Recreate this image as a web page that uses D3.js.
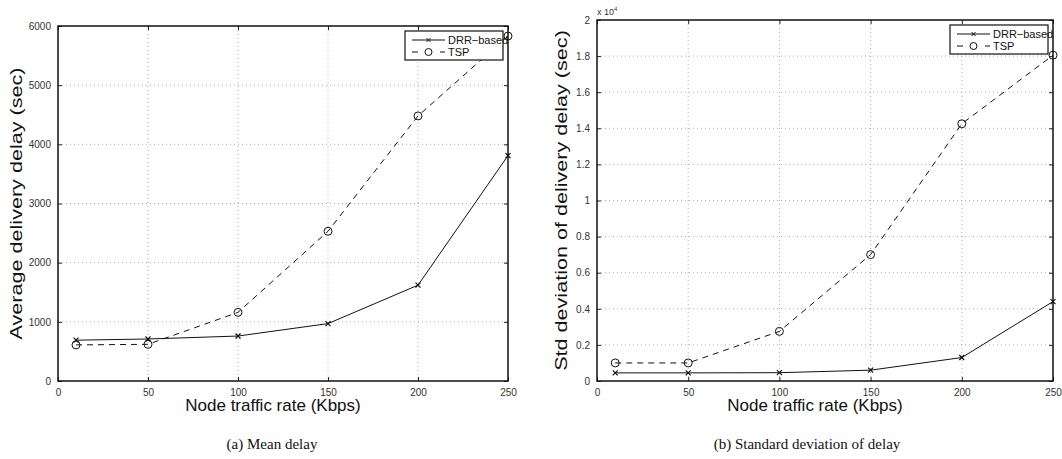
<!DOCTYPE html>
<meta charset="utf-8">
<html>
<head>
<script src="https://d3js.org/d3.v7.min.js"></script>
<style>
  body { margin: 0; background: #fff; }
  svg { display: block; }
</style>
</head>
<body>
<svg id="fig" width="1062" height="459"></svg>
<script>
// traffic rates (Kbps)
var rates = [10, 50, 100, 150, 200, 250];
var xTicks = [0, 50, 100, 150, 200, 250];

// (a) mean delay, sec
var meanDRR = [690, 710, 760, 970, 1620, 3810];
var meanTSP = [610, 620, 1160, 2530, 4480, 5830];
var meanTicks = [0, 1000, 2000, 3000, 4000, 5000, 6000];

// (b) std deviation of delay, x 10^4 sec
var stdDRR = [0.045, 0.045, 0.046, 0.06, 0.13, 0.44];
var stdTSP = [0.10, 0.10, 0.275, 0.70, 1.425, 1.805];
var stdTicks = [0, 0.2, 0.4, 0.6, 0.8, 1, 1.2, 1.4, 1.6, 1.8, 2];

var seriesNames = ["DRR\u2212based", "TSP"];

var svg = d3.select("#fig");

function drawPanel(opt) {
    var x = d3.scaleLinear().domain([0, 250]).range([opt.left, opt.right]);
    var y = d3.scaleLinear().domain(opt.ydom).range([opt.bottom, opt.top]);
    var g = svg.append("g");

    // grid
    g.selectAll(".gx").data(xTicks.slice(1, -1)).enter().append("line")
        .attr("x1", d => x(d)).attr("x2", d => x(d))
        .attr("y1", opt.top).attr("y2", opt.bottom)
        .attr("stroke", "#999").attr("stroke-width", 0.8).attr("stroke-dasharray", "1,3");
    g.selectAll(".gy").data(opt.yticks.slice(1, -1)).enter().append("line")
        .attr("y1", d => y(d)).attr("y2", d => y(d))
        .attr("x1", opt.left).attr("x2", opt.right)
        .attr("stroke", "#999").attr("stroke-width", 0.8).attr("stroke-dasharray", "1,3");

    // axes with inward ticks
    g.append("g").attr("transform", "translate(0," + opt.bottom + ")")
        .call(d3.axisBottom(x).tickValues(xTicks).tickSizeInner(-4).tickSizeOuter(0).tickPadding(8));
    g.append("g").attr("transform", "translate(" + opt.left + ",0)")
        .call(d3.axisLeft(y).tickValues(opt.yticks).tickSizeInner(-4).tickSizeOuter(0).tickPadding(7)
            .tickFormat(opt.fmt));
    g.append("g").attr("transform", "translate(0," + opt.top + ")")
        .call(d3.axisTop(x).tickValues(xTicks).tickSizeInner(-4).tickSizeOuter(0).tickFormat(""));
    g.append("g").attr("transform", "translate(" + opt.right + ",0)")
        .call(d3.axisRight(y).tickValues(opt.yticks).tickSizeInner(-4).tickSizeOuter(0).tickFormat(""));
    g.selectAll(".domain").remove();
    g.selectAll(".tick line").attr("stroke", "#222");
    g.selectAll(".tick text").attr("font-family", "Liberation Sans, Arial, sans-serif")
        .attr("font-size", 10).attr("fill", "#333");

    // frame
    g.append("rect").attr("x", opt.left).attr("y", opt.top)
        .attr("width", opt.right - opt.left).attr("height", opt.bottom - opt.top)
        .attr("fill", "none").attr("stroke", "#111").attr("stroke-width", 1.5);

    var line = d3.line().x(d => x(d[0])).y(d => y(d[1]));
    var drr = rates.map((r, i) => [r, opt.drr[i]]);
    var tsp = rates.map((r, i) => [r, opt.tsp[i]]);

    g.append("path").datum(tsp).attr("d", line).attr("fill", "none")
        .attr("stroke", "#111").attr("stroke-width", 1).attr("stroke-dasharray", "6,5");
    g.append("path").datum(drr).attr("d", line).attr("fill", "none")
        .attr("stroke", "#111").attr("stroke-width", 1);

    g.selectAll(".mc").data(tsp).enter().append("circle")
        .attr("cx", d => x(d[0])).attr("cy", d => y(d[1])).attr("r", 4)
        .attr("fill", "none").attr("stroke", "#111").attr("stroke-width", 1);
    g.selectAll(".mx").data(drr).enter().append("path")
        .attr("d", d => { var px = x(d[0]), py = y(d[1]), s = 2.5;
            return "M" + (px - s) + "," + (py - s) + "L" + (px + s) + "," + (py + s) +
                   "M" + (px - s) + "," + (py + s) + "L" + (px + s) + "," + (py - s); })
        .attr("stroke", "#111").attr("stroke-width", 1.2);

    // axis labels (the source figure is stretched vertically, so the y label is too)
    g.append("text").attr("x", (opt.left + opt.right) / 2 - 10).attr("y", opt.bottom + 30)
        .attr("text-anchor", "middle").attr("font-family", "Liberation Sans, Arial, sans-serif")
        .attr("font-size", 17).attr("fill", "#111").text("Node traffic rate (Kbps)");
    g.append("text")
        .attr("transform", "translate(" + opt.ylabX + "," + ((opt.top + opt.bottom) / 2) + ") scale(1,1.27) rotate(-90)")
        .attr("text-anchor", "middle").attr("font-family", "Liberation Sans, Arial, sans-serif")
        .attr("font-size", 17).attr("fill", "#111").text(opt.ylabel);

    // caption
    g.append("text").attr("x", opt.capX).attr("y", 449)
        .attr("text-anchor", "middle").attr("font-family", "Liberation Serif, Times New Roman, serif")
        .attr("font-size", 15).attr("fill", "#111").text(opt.caption);

    // legend
    var lg = g.append("g").attr("transform", "translate(" + opt.legX + "," + opt.legY + ")");
    lg.append("rect").attr("width", 98).attr("height", 29)
        .attr("fill", "#fff").attr("stroke", "#111").attr("stroke-width", 1.2);
    [0, 1].forEach(function (k) {
        var yy = 9 + k * 12;
        lg.append("line").attr("x1", 7).attr("x2", 40).attr("y1", yy).attr("y2", yy)
            .attr("stroke", "#111").attr("stroke-width", 1)
            .attr("stroke-dasharray", k ? "6,8" : null);
        if (k) lg.append("circle").attr("cx", 23.5).attr("cy", yy).attr("r", 3.5)
            .attr("fill", "#fff").attr("stroke", "#111");
        else lg.append("path").attr("d", "M21.5,7L25.5,11M21.5,11L25.5,7").attr("stroke", "#111");
        lg.append("text").attr("x", 43).attr("y", yy + 4)
            .attr("font-family", "Liberation Sans, Arial, sans-serif").attr("font-size", 11)
            .attr("fill", "#111").text(seriesNames[k]);
    });
    return g;
}

drawPanel({
    left: 58, right: 508, top: 26, bottom: 381,
    ydom: [0, 6000], yticks: meanTicks, fmt: d3.format("d"),
    drr: meanDRR, tsp: meanTSP,
    ylabel: "Average delivery delay (sec)", ylabX: 22,
    caption: "(a)  Mean delay", capX: 272,
    legX: 405, legY: 31
});

var gb = drawPanel({
    left: 597, right: 1053, top: 20, bottom: 381,
    ydom: [0, 2], yticks: stdTicks, fmt: d => d === 0 ? "0" : (Number.isInteger(d) ? String(d) : d.toFixed(1)),
    drr: stdDRR, tsp: stdTSP,
    ylabel: "Std deviation of delivery delay (sec)", ylabX: 567,
    caption: "(b)  Standard deviation of delay", capX: 807,
    legX: 950, legY: 25
});

// exponent note
var ex = gb.append("text").attr("x", 597).attr("y", 15)
    .attr("font-family", "Liberation Sans, Arial, sans-serif").attr("font-size", 9).attr("fill", "#333");
ex.append("tspan").text("x 10");
ex.append("tspan").attr("dy", -4).attr("font-size", 6).text("4");
</script>
</body>
</html>
